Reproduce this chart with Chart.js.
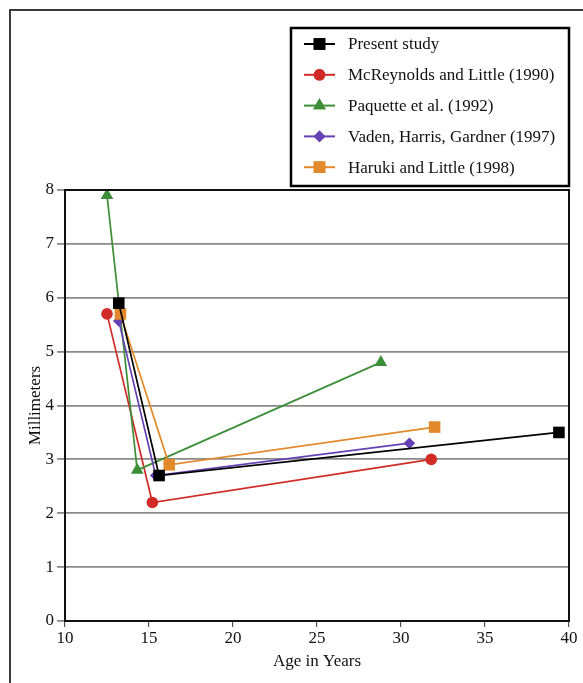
<!DOCTYPE html>
<html>
<head>
<meta charset="utf-8">
<script src="https://cdn.jsdelivr.net/npm/chart.js@4.4.0/dist/chart.umd.min.js"></script>
<style>
  html, body { margin: 0; padding: 0; background: #fff; }
  canvas { display: block; }
</style>
</head>
<body>
<canvas id="ageChart" width="583" height="683"></canvas>
<script>
// series labels
const seriesNames = [
    'Present study',
    'McReynolds and Little (1990)',
    'Paquette et al. (1992)',
    'Vaden, Harris, Gardner (1997)',
    'Haruki and Little (1998)'
];

// ages (x) and millimeters (y) for each study
const presentAge = [13.2, 15.6, 39.4];
const presentMm = [5.9, 2.7, 3.5];
const mcreynoldsAge = [12.5, 15.2, 31.8];
const mcreynoldsMm = [5.7, 2.2, 3.0];
const paquetteAge = [12.5, 14.3, 28.8];
const paquetteMm = [7.9, 2.8, 4.8];
const vadenAge = [13.2, 15.4, 30.5];
const vadenMm = [5.57, 2.7, 3.3];
const harukiAge = [13.3, 16.2, 32.0];
const harukiMm = [5.7, 2.9, 3.6];

const xTicks = [10, 15, 20, 25, 30, 35, 40];
const yTicks = [0, 1, 2, 3, 4, 5, 6, 7, 8];

function toPoints(ages, mm) {
    return ages.map((a, i) => ({ x: a, y: mm[i] }));
}

const colors = ['#000000', '#d02b26', '#3d8f37', '#6541b3', '#e28a2b'];
const markers = ['rect', 'circle', 'triangle', 'rectRot', 'rect'];
const markerSize = [8.2, 5.8, 7.3, 5.8, 8.2];

const allAges = [presentAge, mcreynoldsAge, paquetteAge, vadenAge, harukiAge];
const allMm = [presentMm, mcreynoldsMm, paquetteMm, vadenMm, harukiMm];

// draw order: present study on top
const datasets = seriesNames.map((name, i) => ({
    label: name,
    data: toPoints(allAges[i], allMm[i]),
    borderColor: colors[i],
    backgroundColor: colors[i],
    borderWidth: 1.7,
    pointStyle: markers[i],
    pointRadius: markerSize[i],
    pointBorderWidth: 0,
    pointBackgroundColor: colors[i],
    showLine: true,
    tension: 0,
    order: i === 0 ? 0 : 5 - i
}));

const serif = "'Liberation Serif', 'DejaVu Serif', serif";

// outer frame, plot frame and boxed legend
const framePlugin = {
    id: 'frame',
    afterDraw(chart) {
        const ctx = chart.ctx;
        const a = chart.chartArea;
        ctx.save();
        // outer frame
        ctx.strokeStyle = '#3a3a3a';
        ctx.lineWidth = 2;
        ctx.beginPath();
        ctx.moveTo(10, chart.height);
        ctx.lineTo(10, 10);
        ctx.lineTo(chart.width, 10);
        ctx.stroke();
        // plot box
        ctx.strokeStyle = '#111';
        ctx.lineWidth = 2;
        ctx.strokeRect(a.left, a.top, a.right - a.left, a.bottom - a.top);

        // legend box
        const boxL = 291, boxT = 28, boxR = a.right, boxB = 186;
        ctx.fillStyle = '#fff';
        ctx.fillRect(boxL, boxT, boxR - boxL, boxB - boxT);
        ctx.lineWidth = 2.5;
        ctx.strokeStyle = '#000';
        ctx.strokeRect(boxL, boxT, boxR - boxL, boxB - boxT);

        ctx.font = '17px ' + serif;
        ctx.textBaseline = 'middle';
        ctx.textAlign = 'left';
        seriesNames.map((name, i) => {
            const ds = chart.data.datasets[i];
            const y = 44 + i * 30.8;
            ctx.strokeStyle = ds.borderColor;
            ctx.lineWidth = 2;
            ctx.beginPath();
            ctx.moveTo(304, y);
            ctx.lineTo(335, y);
            ctx.stroke();
            ctx.fillStyle = ds.borderColor;
            Chart.helpers.drawPoint(ctx, {
                pointStyle: ds.pointStyle,
                radius: ds.pointRadius,
                rotation: 0,
                borderWidth: 0
            }, 319.5, y);
            ctx.fill();
            ctx.fillStyle = '#111';
            ctx.fillText(name, 348, y + 1);
        });
        ctx.restore();
    }
};

const ctx = document.getElementById('ageChart').getContext('2d');
new Chart(ctx, {
    type: 'scatter',
    data: { datasets: datasets },
    options: {
        responsive: false,
        animation: false,
        layout: { padding: { top: 190, right: 14, left: 0, bottom: 0 } },
        plugins: {
            legend: { display: false },
            tooltip: { enabled: false }
        },
        scales: {
            x: {
                type: 'linear',
                min: xTicks[0],
                max: xTicks[xTicks.length - 1],
                afterBuildTicks: (scale) => { scale.ticks = xTicks.map(v => ({ value: v })); },
                afterFit: (scale) => { scale.height = 62; },
                grid: {
                    drawOnChartArea: false,
                    drawTicks: true,
                    tickLength: 6,
                    color: '#555',
                    lineWidth: 1.2
                },
                border: { color: '#111', width: 2 },
                ticks: {
                    color: '#111',
                    padding: 1,
                    font: { family: serif, size: 17 }
                },
                title: {
                    display: true,
                    text: 'Age in Years',
                    color: '#111',
                    font: { family: serif, size: 17 },
                    padding: { top: 0, bottom: 11 }
                }
            },
            y: {
                type: 'linear',
                min: yTicks[0],
                max: yTicks[yTicks.length - 1],
                afterBuildTicks: (scale) => { scale.ticks = yTicks.map(v => ({ value: v })); },
                afterFit: (scale) => { scale.width = 65; },
                grid: {
                    drawOnChartArea: true,
                    drawTicks: true,
                    tickLength: 8,
                    color: '#8a8a8a',
                    lineWidth: 1.8
                },
                border: { color: '#111', width: 2 },
                ticks: {
                    color: '#111',
                    padding: 3,
                    font: { family: serif, size: 17 }
                },
                title: {
                    display: true,
                    text: 'Millimeters',
                    color: '#111',
                    font: { family: serif, size: 17 },
                    padding: { top: 25, bottom: 0 }
                }
            }
        }
    },
    plugins: [framePlugin]
});
</script>
</body>
</html>
